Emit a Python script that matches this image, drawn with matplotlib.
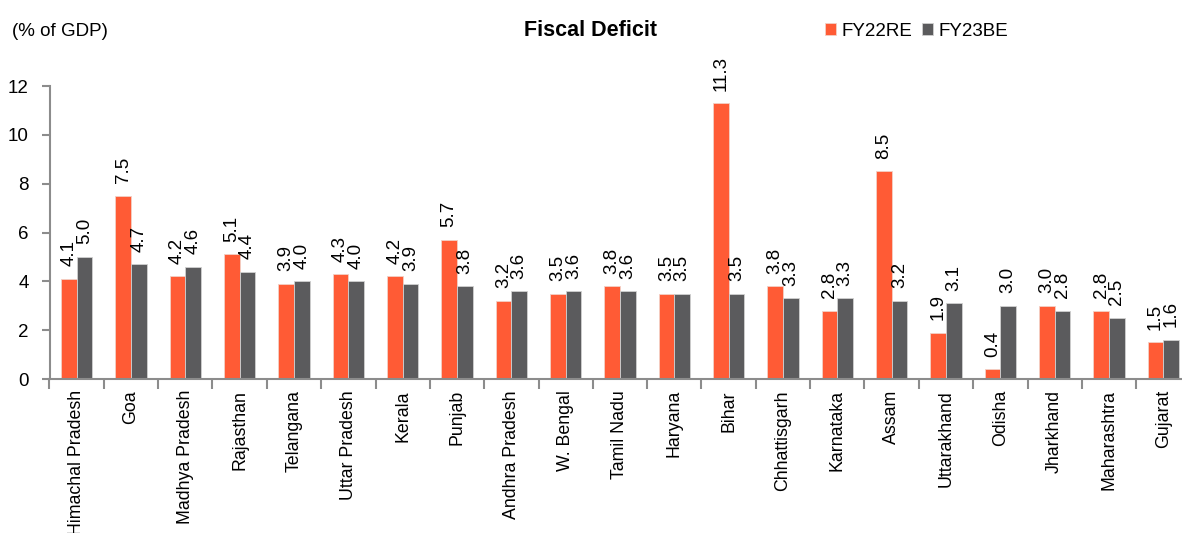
import matplotlib.pyplot as plt
import numpy as np
from matplotlib import font_manager

# dane
states = ["Himachal Pradesh", "Goa", "Madhya Pradesh", "Rajasthan", "Telangana",
          "Uttar Pradesh", "Kerala", "Punjab", "Andhra Pradesh", "W. Bengal",
          "Tamil Nadu", "Haryana", "Bihar", "Chhattisgarh", "Karnataka", "Assam",
          "Uttarakhand", "Odisha", "Jharkhand", "Maharashtra", "Gujarat"]
fy22re = [4.1, 7.5, 4.2, 5.1, 3.9, 4.3, 4.2, 5.7, 3.2, 3.5, 3.8, 3.5, 11.3,
          3.8, 2.8, 8.5, 1.9, 0.4, 3.0, 2.8, 1.5]
fy23be = [5.0, 4.7, 4.6, 4.4, 4.0, 4.0, 3.9, 3.8, 3.6, 3.6, 3.6, 3.5, 3.5,
          3.3, 3.3, 3.2, 3.1, 3.0, 2.8, 2.5, 1.6]
y_ticks = [0, 2, 4, 6, 8, 10, 12]

names = {f.name for f in font_manager.fontManager.ttflist}
family = "Liberation Sans Narrow" if "Liberation Sans Narrow" in names else "Liberation Sans"
plt.rcParams["font.family"] = [family, "DejaVu Sans"]
fs = 15 if family == "Liberation Sans Narrow" else 13.5
fs_cat = 14.5 if family == "Liberation Sans Narrow" else 12.8

orange, grey, spine = "#FF5B35", "#5B5B5D", "#8C8C8C"

fig = plt.figure(figsize=(11.82, 5.33), dpi=100)
ax = fig.add_axes([49.5 / 1182, 154 / 533, 1141 / 1182, 293 / 533])

x = np.arange(len(states))
w = 0.29
b1 = ax.bar(x - w / 2, fy22re, w, color=orange, edgecolor="#F2D0C6", linewidth=0.6, label="FY22RE")
b2 = ax.bar(x + w / 2, fy23be, w, color=grey, edgecolor="#D0D0D0", linewidth=0.6, label="FY23BE")
for bars in (b1, b2):
    ax.bar_label(bars, labels=[f"{v:.1f}" for v in bars.datavalues], rotation=90,
                 padding=9, fontsize=fs, color="black")

ax.set_xlim(-0.5, len(states) - 0.5)
ax.set_ylim(0, 12)
ax.set_yticks(y_ticks)
ax.tick_params(axis="y", labelsize=fs, length=6, color=spine, width=1.5, pad=9)
ax.set_xticks(np.arange(len(states) + 1) - 0.5)
ax.set_xticklabels([])
ax.set_xticks(x, minor=True)
ax.set_xticklabels(states, minor=True, rotation=90, fontsize=fs_cat, va="top")
ax.tick_params(axis="x", which="major", length=7, color=spine, width=1.5)
ax.tick_params(axis="x", which="minor", length=0, pad=8)
for s in ("top", "right"):
    ax.spines[s].set_visible(False)
for s in ("left", "bottom"):
    ax.spines[s].set_color(spine)
    ax.spines[s].set_linewidth(1.5)

fig.text(12 / 1182, 1 - 32 / 533, "(% of GDP)", fontsize=fs, va="center", ha="left")
fig.text(591 / 1182, 1 - 30 / 533, "Fiscal Deficit", fontsize=15.5, fontweight="bold",
         va="center", ha="center")
fig.legend(handles=[b1, b2], loc="center left", bbox_to_anchor=(817 / 1182, 1 - 31 / 533),
           ncol=2, frameon=False, fontsize=fs, handlelength=0.6, handleheight=0.6,
           handletextpad=0.3, columnspacing=0.5, borderaxespad=0)

fig.savefig("out.png", dpi=100)
